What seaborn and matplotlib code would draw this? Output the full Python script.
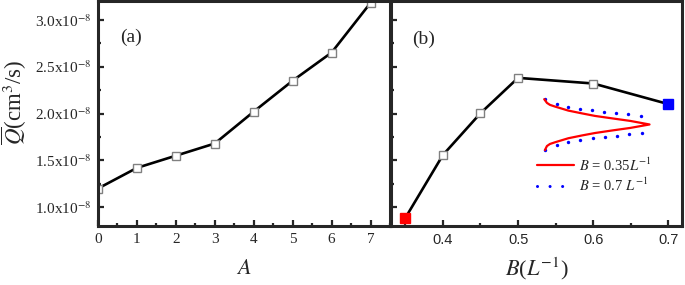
import matplotlib
matplotlib.use("Agg")
import matplotlib.pyplot as plt
import seaborn as sns
from matplotlib.ticker import MultipleLocator, FuncFormatter
from matplotlib.lines import Line2D

# panel (a): flow rate vs A
a_vals = [0, 1, 2, 3, 4, 5, 6, 7]
q_a = [1.20, 1.42, 1.55, 1.68, 2.02, 2.35, 2.65, 3.18]  # x1e-8 cm^3/s

# panel (b): flow rate vs B
b_vals = [0.35, 0.40, 0.45, 0.50, 0.60, 0.70]
q_b = [0.885, 1.557, 2.003, 2.38, 2.32, 2.10]  # x1e-8 cm^3/s

# velocity profile sketches drawn inside panel (b)
red_x = [0.5348, 0.5384, 0.5424, 0.5491, 0.5668, 0.5851, 0.6024, 0.6251, 0.6491, 0.6748,
         0.6491, 0.6251, 0.6024, 0.5851, 0.5668, 0.5491, 0.5424, 0.5384, 0.5357]
red_y = [2.153, 2.113, 2.092, 2.074, 2.031, 2.001, 1.974, 1.948, 1.921, 1.883,
         1.846, 1.819, 1.792, 1.766, 1.736, 1.693, 1.675, 1.653, 1.610]
blue_x = [0.5357, 0.5513, 0.5668, 0.5824, 0.5980, 0.6144, 0.6304, 0.6468, 0.6633,
          0.5357, 0.5513, 0.5668, 0.5824, 0.5993, 0.6157, 0.6321, 0.6481, 0.6647]
blue_y = [2.156, 2.100, 2.074, 2.052, 2.035, 2.020, 2.006, 1.993, 1.978,
          1.610, 1.664, 1.696, 1.717, 1.736, 1.749, 1.763, 1.778, 1.789]

sns.set_style("ticks")
plt.rcParams["font.family"] = ["Liberation Serif", "DejaVu Serif"]
plt.rcParams["mathtext.fontset"] = "stix"

fig = plt.figure(figsize=(6.85, 2.85), dpi=100)
W, H = 685, 285
ax1 = fig.add_axes([98 / W, 59 / H, 292 / W, 225 / H])
ax2 = fig.add_axes([391 / W, 59 / H, 291 / W, 225 / H])

sq = dict(marker="s", markersize=6, markerfacecolor="white",
          markeredgecolor="#808080", markeredgewidth=1.0)

sns.lineplot(x=a_vals, y=q_a, ax=ax1, color="black", linewidth=1.9, **sq)
sns.lineplot(x=b_vals, y=q_b, ax=ax2, color="black", linewidth=1.9, **sq)
ax2.plot(b_vals[:1], q_b[:1], "s", color="red", markersize=6.5, zorder=5)
ax2.plot(b_vals[-1:], q_b[-1:], "s", color="blue", markersize=6.5, zorder=5)

sns.lineplot(x=red_x, y=red_y, ax=ax2, color="red", linewidth=1.6,
             sort=False, estimator=None)
sns.scatterplot(x=blue_x, y=blue_y, ax=ax2, color="blue", s=6, linewidth=0)

for ax in (ax1, ax2):
    ax.set_ylim(0.8, 3.2)
    ax.yaxis.set_major_locator(MultipleLocator(0.5))
    ax.yaxis.set_minor_locator(MultipleLocator(0.25))
    for s in ax.spines.values():
        s.set_linewidth(2.2)
        s.set_visible(True)
    ax.tick_params(which="both", direction="in", top=False, right=False, width=1.6)
    ax.tick_params(which="major", length=4)
    ax.tick_params(which="minor", length=2.5)

ax1.set_xlim(0, 7.5)
ax1.xaxis.set_major_locator(MultipleLocator(1))
ax1.xaxis.set_minor_locator(MultipleLocator(0.5))
ax1.yaxis.set_major_formatter(FuncFormatter(lambda v, p: f"{v:.1f}x10$^{{-8}}$"))
ax1.tick_params(axis="both", labelsize=11, pad=5)

ax2.set_xlim(0.331, 0.718)
ax2.xaxis.set_major_locator(MultipleLocator(0.1))
ax2.xaxis.set_minor_locator(MultipleLocator(0.05))
ax2.xaxis.set_major_formatter(FuncFormatter(lambda v, p: f"{v:.1f}"))
ax2.tick_params(axis="y", labelleft=False)
ax2.tick_params(axis="x", labelsize=10.5, pad=5)
for lab in ax2.get_xticklabels():
    lab.set_family("Liberation Sans")

ax1.set_xlabel("$A$", fontsize=16)
ax1.xaxis.set_label_coords(0.5, -0.151)
ax1.set_ylabel(r"$\overline{Q}$(cm$^3$/s)", fontsize=16.5)
ax1.yaxis.set_label_coords(-0.235, 0.55)
ax2.set_xlabel("$B$($L^{-1}$)", fontsize=16)
ax2.xaxis.set_label_coords(0.5, -0.13)

ax1.text(0.075, 0.84, "(a)", transform=ax1.transAxes, fontsize=14, va="center")
ax2.text(0.071, 0.83, "(b)", transform=ax2.transAxes, fontsize=14, va="center")

handles = [Line2D([], [], color="red", linewidth=1.6),
           Line2D([], [], color="blue", linewidth=2.2, linestyle=(0, (0.01, 4.1)),
                  dash_capstyle="round")]
ax2.legend(handles, ["$B$ = 0.35$L^{-1}$", "$B$ = 0.7 $L^{-1}$"],
           loc="lower left", bbox_to_anchor=(0.455, 0.085), frameon=False,
           fontsize=10.5, handlelength=2.6, handletextpad=0.3,
           labelspacing=0.2)

fig.savefig("out.png", dpi=100)
